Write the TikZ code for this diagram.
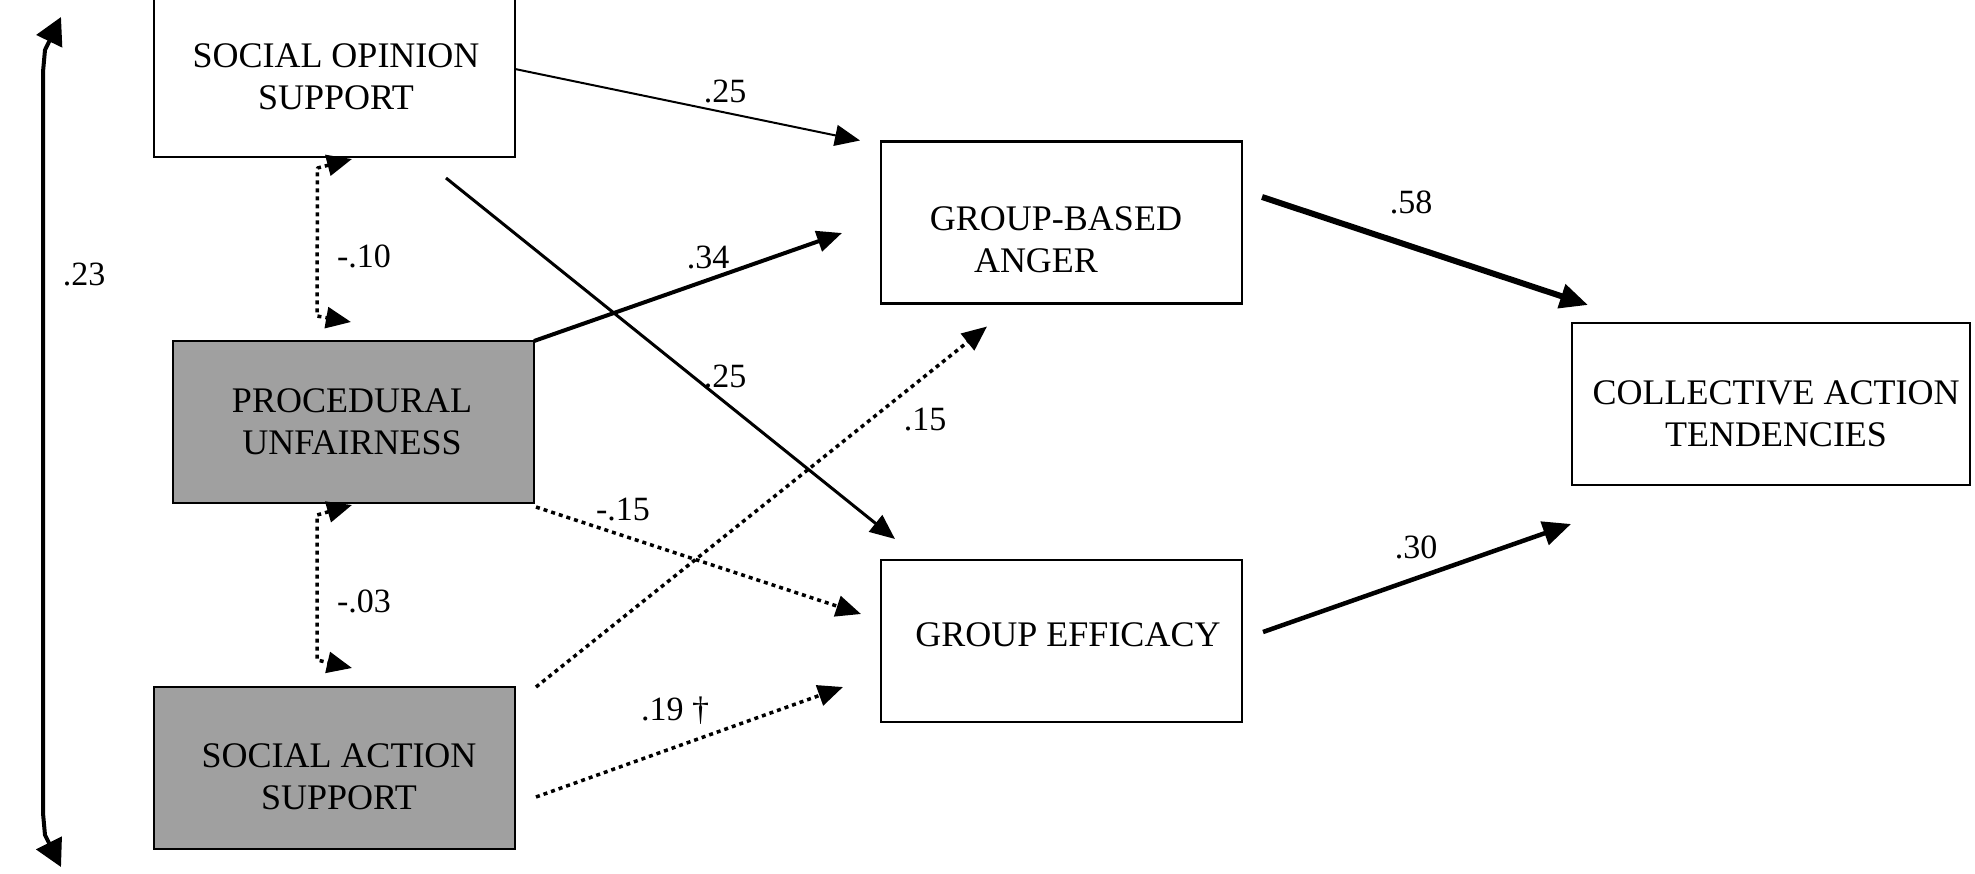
\documentclass[tikz,border=0pt]{standalone}
\usepackage{fontspec}
\setmainfont{Liberation Serif}
\usetikzlibrary{arrows.meta,calc}
\definecolor{boxgray}{RGB}{160,160,160}
\tikzset{
  box/.style={draw=black, line width=2.5pt, minimum width=361pt, minimum height=162pt, inner sep=0pt, outer sep=0pt},
  graybox/.style={box, fill=boxgray},
  boxtext/.style={align=center, font=\fontsize{36}{42}\selectfont, inner sep=0pt},
  coef/.style={font=\fontsize{34}{40}\selectfont, anchor=base, inner sep=0pt},
  tip/.style={-{Triangle[length=25pt,width=21pt]}, line join=round},
  bigtip/.style={-{Triangle[length=28pt,width=24pt]}, line join=round},
  dtip/.style={{Triangle[length=25pt,width=21pt]}-{Triangle[length=25pt,width=21pt]}, line join=round},
  dotline/.style={line width=3.5pt, dash pattern=on 4pt off 4pt},
}
\begin{document}
\begin{tikzpicture}[x=1pt,y=-1pt]
\useasboundingbox (0,0) rectangle (1975,873);
\fill[white] (0,0) rectangle (1975,873);
% boxes
\node[box] (sos) at (334.5,76) {};
\node[graybox] (pu) at (353.5,422) {};
\node[graybox] (sas) at (334.5,768) {};
\node[box] (anger) at (1061.5,222.5) {};
\node[box] (eff) at (1061.5,641) {};
\node[box, minimum width=398pt] (cat) at (1771,404) {};
% box texts
\node[boxtext] (sost) at (336,76.5) {SOCIAL OPINION\\SUPPORT};
\node[boxtext] (put) at (352,421.5) {PROCEDURAL\\UNFAIRNESS};
\node[boxtext] (sast) at (339,776.5) {SOCIAL ACTION\\SUPPORT};
\node[boxtext] (angert) at (1056,240) {GROUP-BASED\\ANGER\hspace*{40pt}};
\node[boxtext] (efft) at (1068,635) {GROUP EFFICACY};
\node[boxtext] (catt) at (1776,413.5) {COLLECTIVE ACTION\\TENDENCIES};
% paths
\draw[tip, line width=2pt] ($(sos.east)+(0,-7)$) -- ($(anger.north west)+(-21,-1)$);
\draw[tip, line width=3pt] ($(sos.south)+(111.5,21)$) -- ($(eff.north west)+(14,-21)$);
\draw[tip, line width=4pt] (pu.north east) -- ($(anger.west)+(-39,10.5)$);
\draw[tip, dotline] ($(pu.south east)+(2,4)$) -- ($(eff.north west)+(-20,54)$);
\draw[tip, dotline] ($(sas.north east)+(21,0)$) -- ($(anger.south west)+(106,23)$);
\draw[tip, dotline] ($(sas.east)+(21,29)$) -- ($(eff.south west)+(-38,-35)$);
\draw[bigtip, line width=6pt] ($(anger.east)+(20,-25.5)$) -- ($(cat.north west)+(16,-18)$);
\draw[bigtip, line width=4.5pt] ($(eff.east)+(21,-9)$) -- ($(cat.south west)+(-1,39)$);
% correlations
\draw[dotline, dtip] ($(sos.south)+(17.5,2)$) -- ($(sos.south)+(-17,11)$) -- ($(pu.north)+(-36.5,-25)$) -- ($(pu.north)+(-2.5,-19)$);
\draw[dotline, dtip] ($(pu.south)+(-1.5,2)$) -- ($(pu.south)+(-36.5,12)$) -- ($(sas.north)+(-17.5,-27)$) -- ($(sas.north)+(17.5,-19)$);
\coordinate (t23) at (61,17);
\coordinate (b23) at (61,867);
\draw[line width=4pt, line join=round, {Triangle[length=27pt,width=28pt]}-{Triangle[length=27pt,width=28pt]}] (t23) -- (45,50) -- (43,72) -- (43,813) -- (45,835) -- (b23);
% coefficients
\node[coef] (l1) at (725,102) {.25};
\node[coef] (l2) at (708,268) {.34};
\node[coef] (l3) at (725,387) {.25};
\node[coef] (l4) at (925,430) {.15};
\node[coef] (l5) at (623,520) {-.15};
\node[coef] (l6) at (675,720) {.19 †};
\node[coef] (l7) at (1411,213) {.58};
\node[coef] (l8) at (1416,558) {.30};
\node[coef] (l9) at (364,267) {-.10};
\node[coef] (l10) at (364,612) {-.03};
\node[coef] (l11) at (84,285) {.23};
\end{tikzpicture}
\end{document}
